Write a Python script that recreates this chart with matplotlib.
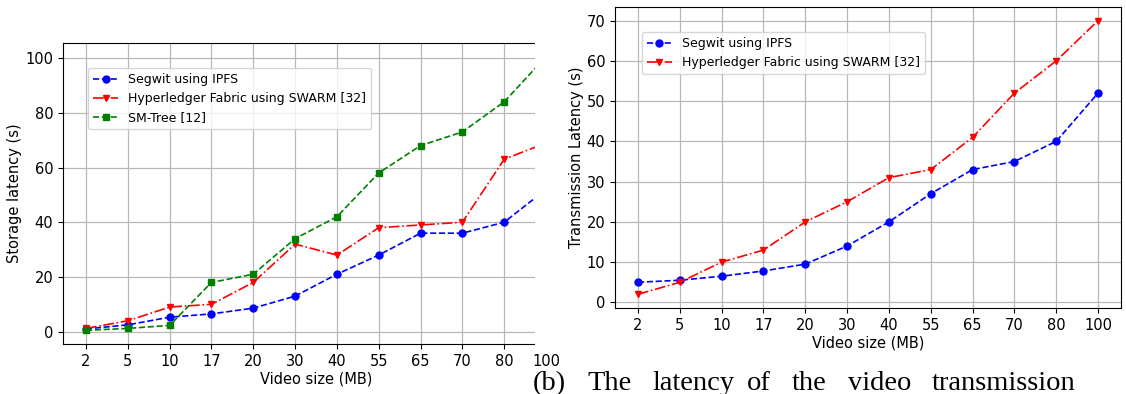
import matplotlib
matplotlib.use("Agg")
import matplotlib.pyplot as plt
from matplotlib.patches import Rectangle

# data
sizes = ['2', '5', '10', '17', '20', '30', '40', '55', '65', '70', '80', '100']

# (a) storage latency
store_segwit = [1.0, 2.5, 5.3, 6.5, 8.6, 13, 21, 28, 36, 36, 40, 52]
store_fabric = [1.2, 4.0, 9.0, 10, 18, 32, 28, 38, 39, 40, 63, 69]
store_smtree = [0.5, 1.2, 2.3, 18, 21, 34, 42, 58, 68, 73, 84, 100.5]

# (b) transmission latency
trans_segwit = [5.0, 5.5, 6.5, 7.8, 9.5, 14, 20, 27, 33, 35, 40, 52]
trans_fabric = [2.0, 5.0, 10, 13, 20, 25, 31, 33, 41, 52, 60, 70]

W, H = 1126, 394
fig = plt.figure(figsize=(W / 100, H / 100), dpi=100)
plt.rcParams['font.size'] = 10.5

def px_axes(left, top, right, bottom):
    return fig.add_axes([left / W, 1 - bottom / H, (right - left) / W, (bottom - top) / H])

x = list(range(len(sizes)))
style_segwit = dict(color='blue', linestyle='--', marker='o', markersize=5, linewidth=1.2)
style_fabric = dict(color='red', linestyle='-.', marker='v', markersize=5, linewidth=1.2)
style_smtree = dict(color='green', linestyle='--', marker='s', markersize=5, linewidth=1.2)

# left panel (cropped on the right in the source image)
ax1 = px_axes(63, 43, 569, 344)
ax1.plot(x, store_segwit, label='Segwit using IPFS', **style_segwit)
ax1.plot(x, store_fabric, label='Hyperledger Fabric using SWARM [32]', **style_fabric)
ax1.plot(x, store_smtree, label='SM-Tree [12]', **style_smtree)
ax1.set_xticks(x)
ax1.set_xticklabels(sizes)
ax1.set_yticks([0, 20, 40, 60, 80, 100])
ax1.set_xlabel('Video size (MB)', labelpad=2)
ax1.set_ylabel('Storage latency (s)', labelpad=2)
ax1.grid(True, color='#b8b8b8', linewidth=0.9)
ax1.legend(loc='upper left', bbox_to_anchor=(0.05, 0.917), borderaxespad=0, fontsize=9)
ax1.set_zorder(0)

# white mask reproducing the crop of the left image
mask = Rectangle((535 / W, 1 - 350 / H), 1 - 535 / W, 350 / H,
                 transform=fig.transFigure, facecolor='white', edgecolor='none', zorder=1)
fig.add_artist(mask)

# right panel
ax2 = px_axes(615, 7, 1121, 308)
ax2.plot(x, trans_segwit, label='Segwit using IPFS', **style_segwit)
ax2.plot(x, trans_fabric, label='Hyperledger Fabric using SWARM [32]', **style_fabric)
ax2.set_xticks(x)
ax2.set_xticklabels(sizes)
ax2.set_yticks([0, 10, 20, 30, 40, 50, 60, 70])
ax2.set_xlabel('Video size (MB)', labelpad=2)
ax2.set_ylabel('Transmission Latency (s)', labelpad=2)
ax2.grid(True, color='#b8b8b8', linewidth=0.9)
ax2.legend(loc='upper left', bbox_to_anchor=(0.053, 0.917), borderaxespad=0, fontsize=9)
ax2.set_zorder(2)

# caption words (justified in the source)
caption_words = ['(b)', 'The', 'latency', 'of', 'the', 'video', 'transmission']
caption_x = [533, 587, 652, 747, 792, 848, 932]
for word, xp in zip(caption_words, caption_x):
    fig.text(xp / W, 1 - 390 / H, word, family='Liberation Serif', fontsize=20.5,
             ha='left', va='baseline', zorder=3)

fig.savefig('out.png', dpi=100)
